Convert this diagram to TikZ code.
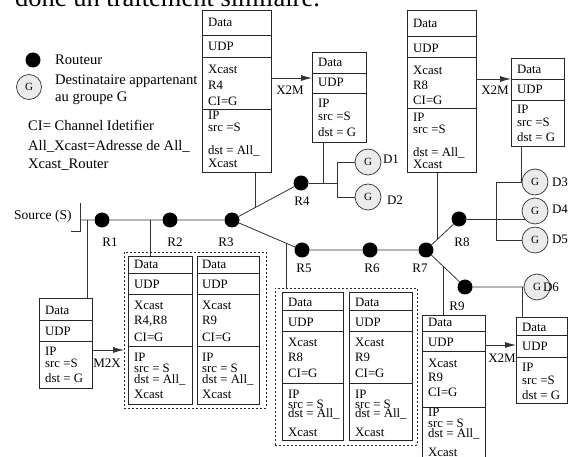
\documentclass[tikz,border=0pt]{standalone}
\usepackage{fontspec}
\setmainfont{Liberation Serif}
\usetikzlibrary{arrows.meta,calc,backgrounds}
\newcounter{tn}
\tikzset{
  tx/.style={anchor=base west, inner sep=0pt, font=\fontsize{12.8}{14}\selectfont},
  lg/.style={anchor=base west, inner sep=0pt, font=\fontsize{14.6}{16}\selectfont},
  rl/.style={inner sep=0pt, font=\fontsize{13}{14}\selectfont},
  pbox/.style={draw=black!85, line width=0.8pt, anchor=north west, inner sep=0pt, outer sep=0pt},
  boxline/.style={draw=black!85, line width=0.8pt},
  wire/.style={draw=black!80, line width=0.8pt},
  arr/.style={wire, -{Latex[length=11pt,width=6pt]}},
  router/.style={circle, fill=black, minimum size=15pt, inner sep=0pt},
  dest/.style={circle, draw=black!80, line width=0.7pt, fill=black!8, minimum size=26pt, inner sep=0pt, font=\fontsize{11}{12}\selectfont},
  dashbox/.style={draw=black!85, line width=0.8pt, dash pattern=on 2pt off 2pt, anchor=north west, inner sep=0pt}
}
\newcommand\tl[3]{\stepcounter{tn}\node[tx] (t\arabic{tn}) at (#1,{#2+4.3}) {#3};}
\newcommand\lgt[3]{\stepcounter{tn}\node[lg] (t\arabic{tn}) at (#1,{#2+4.6}) {#3};}
\newcommand\pkt[6]{\node[pbox, minimum width=#4pt, minimum height=#5pt] (#1) at (#2,#3) {};
  \foreach \d in {#6} {\draw[boxline] (#2,\d) -- ++(#4,0);}}
\begin{document}
\begin{tikzpicture}[x=1pt,y=-1pt]
\useasboundingbox (0,0) rectangle (571,457);
% title (cut at the top)
\node[anchor=base west, inner sep=0pt, font=\fontsize{26.5}{30}\selectfont] (title) at (15,7) {donc un traitement similaire.};
% legend
\node[router] (legR) at (33,60) {};
\lgt{55}{60}{Routeur}
\node[dest, minimum size=25pt] (legG) at (29,87) {G};
\lgt{55}{80}{Destinataire appartenant}
\lgt{55}{97}{au groupe G}
\lgt{28}{126}{CI= Channel Idetifier}
\lgt{28}{146}{All\_Xcast=Adresse de All\_}
\lgt{28}{164}{Xcast\_Router}
% source
\node[anchor=west, inner sep=0pt, font=\fontsize{13.5}{15}\selectfont] (src) at (14,216) {Source (S)};
\draw[wire] (80,203) -- (80,232);
\draw[wire] (71,231) -- (80,231);
\coordinate (S) at (80,220);
% routers
\node[router] (R1) at (102,220) {};
\node[router] (R2) at (170,220) {};
\node[router] (R3) at (232,220) {};
\node[router] (R4) at (301,183) {};
\node[router] (R5) at (302,250) {};
\node[router] (R6) at (370,250) {};
\node[router] (R7) at (426,250) {};
\node[router] (R8) at (459,219) {};
\node[router] (R9) at (465,287) {};
\node[rl] (lR1) at (110,242) {R1};
\node[rl] (lR2) at (175,242) {R2};
\node[rl] (lR3) at (226,242) {R3};
\node[rl] (lR4) at (302,201) {R4};
\node[rl] (lR5) at (304,268) {R5};
\node[rl] (lR6) at (372,268) {R6};
\node[rl] (lR7) at (420,268) {R7};
\node[rl] (lR8) at (462,242) {R8};
\node[rl] (lR9) at (457,306) {R9};
% destinations
\node[dest] (D1) at (368,162) {G};
\node[dest] (D2) at (368,197) {G};
\node[dest] (D3) at (535,182) {G};
\node[dest] (D4) at (535,211) {G};
\node[dest] (D5) at (535,240) {G};
\node[dest] (D6) at (537,287) {G};
\node[rl] (lD1) at (391,159) {D1};
\node[rl] (lD2) at (395,200) {D2};
\node[rl] (lD3) at (560,182) {D3};
\node[rl] (lD4) at (560,209) {D4};
\node[rl] (lD5) at (560,239) {D5};
\node[rl] (lD6) at (551,287) {D6};
% box A (R4, Xcast)
\pkt{A}{202}{10}{69}{162}{35,57,109}
\tl{208}{22}{Data}\tl{208}{46}{UDP}\tl{208}{69}{Xcast}\tl{208}{85}{R4}\tl{208}{101}{CI=G}
\tl{208}{115}{IP}\tl{208}{127}{src =S}\tl{208}{150}{dst = All\_}\tl{208}{163}{Xcast}
% box B (R4, X2M)
\pkt{B}{312}{52}{54}{90}{73,93}
\tl{318}{62}{Data}\tl{318}{82}{UDP}\tl{318}{103}{IP}\tl{318}{116}{src =S}\tl{318}{132}{dst = G}
% box C (R8, Xcast)
\pkt{C}{407}{10}{69}{162}{36,57,108}
\tl{413}{23}{Data}\tl{413}{48}{UDP}\tl{413}{70}{Xcast}\tl{413}{85}{R8}\tl{413}{100}{CI=G}
\tl{413}{117}{IP}\tl{413}{129}{src =S}\tl{413}{152}{dst = All\_}\tl{413}{164}{Xcast}
% box D (R8, X2M)
\pkt{D}{511}{58}{53}{88}{79,100}
\tl{517}{69}{Data}\tl{517}{89}{UDP}\tl{517}{109}{IP}\tl{517}{122}{src =S}\tl{517}{137}{dst = G}
% box E (R9, Xcast)
\pkt{E}{422}{315}{63}{152}{331,351,407}
\tl{428}{322}{Data}\tl{428}{342}{UDP}\tl{428}{363}{Xcast}\tl{428}{377}{R9}\tl{428}{392}{CI=G}
\tl{428}{412}{IP}\tl{428}{423}{src = S}\tl{428}{433}{dst = All\_}\tl{428}{452}{Xcast}
% box F (R9, X2M)
\pkt{F}{516}{317}{51}{86}{335,357}
\tl{522}{327}{Data}\tl{522}{346}{UDP}\tl{522}{367}{IP}\tl{522}{380}{src =S}\tl{522}{395}{dst = G}
% dashed group 1
\node[dashbox, minimum width=142pt, minimum height=156pt] (DB1) at (124,252) {};
\pkt{H1}{128}{256}{64}{148}{273,294,346}
\tl{134}{264}{Data}\tl{134}{284}{UDP}\tl{134}{305}{Xcast}\tl{134}{320}{R4,R8}\tl{134}{337}{CI=G}
\tl{134}{357}{IP}\tl{134}{368}{src = S}\tl{134}{379}{dst = All\_}\tl{134}{394}{Xcast}
\pkt{H2}{197}{256}{62}{148}{273,294,346}
\tl{202}{264}{Data}\tl{202}{284}{UDP}\tl{202}{305}{Xcast}\tl{202}{320}{R9}\tl{202}{337}{CI=G}
\tl{202}{357}{IP}\tl{202}{368}{src = S}\tl{202}{379}{dst = All\_}\tl{202}{394}{Xcast}
% dashed group 2
\node[dashbox, minimum width=142pt, minimum height=157pt] (DB2) at (275,288) {};
\pkt{G1}{282}{292}{61}{148}{310,331,383}
\tl{288}{302}{Data}\tl{288}{322}{UDP}\tl{288}{342}{Xcast}\tl{288}{357}{R8}\tl{288}{373}{CI=G}
\tl{288}{394}{IP}\tl{288}{404}{src = S}\tl{288}{413}{dst = All\_}\tl{288}{432}{Xcast}
\pkt{G2}{349}{292}{63}{148}{310,331,383}
\tl{355}{302}{Data}\tl{355}{322}{UDP}\tl{355}{342}{Xcast}\tl{355}{357}{R9}\tl{355}{373}{CI=G}
\tl{355}{394}{IP}\tl{355}{404}{src = S}\tl{355}{413}{dst = All\_}\tl{355}{432}{Xcast}
% box I (source, M2X)
\pkt{I}{39}{298}{53}{90}{320,341}
\tl{45}{310}{Data}\tl{45}{331}{UDP}\tl{45}{351}{IP}\tl{45}{363}{src =S}\tl{45}{378}{dst = G}
% arrow labels
\node[rl] (xA) at (290,90) {X2M};
\node[rl] (xC) at (495,90) {X2M};
\node[rl] (xE) at (502,358) {X2M};
\node[rl] (mI) at (107,363) {M2X};
% junction coordinates
\coordinate (jA) at ($(R3)!0.333!(R4)$);
\coordinate (jB) at (323,183);
\coordinate (jD1) at (337,183);
\coordinate (jC) at ($(R7)!0.333!(R8)$);
\coordinate (jD) at (496,182);
\coordinate (jE) at ($(R7)!0.436!(R9)$);
\coordinate (jF) at (522,287);
\coordinate (jG) at ($(R3)!0.771!(R5)$);
\coordinate (jH) at ($(R1)!0.706!(R2)$);
\coordinate (jI) at (87,220);
\coordinate (yAB) at (0,78);
\coordinate (yCD) at (0,79);
\coordinate (yEF) at (0,345);
\coordinate (yI) at (0,350);
\begin{scope}[on background layer]
\draw[wire] (S) -- (R1) -- (R2) -- (R3) -- (R4);
\draw[wire] (R3) -- (R5) -- (R6) -- (R7) -- (R8);
\draw[wire] (R7) -- (R9) -- (D6);
\draw[wire] (R4) -- (jD1);
\draw[wire] (jD1 |- D1) -- (jD1 |- D2);
\draw[wire] (jD1 |- D1) -- (D1);
\draw[wire] (jD1 |- D2) -- (D2);
\draw[wire] (A.south -| jA) -- (jA);
\draw[wire] (B.south -| jB) -- (jB);
\draw[wire] (C.south -| jC) -- (jC);
\draw[wire] (D.south -| D3.west) -- (D3.west) -- (jD) |- (D5.west);
\draw[wire] (R8) -- (R8 -| D4);
\draw[wire] (jE) -- (jE |- E.north);
\draw[wire] (jF) -- (jF |- F.north);
\draw[wire] (jG) -- (jG |- DB2.north);
\draw[wire] (jH) -- (jH |- H1.north);
\draw[wire] (jI) -- (jI |- I.north);
\end{scope}
\draw[arr] (A.east |- yAB) -- (B.west |- yAB);
\draw[arr] (C.east |- yCD) -- (D.west |- yCD);
\draw[arr] (E.east |- yEF) -- (F.west |- yEF);
\draw[arr] (I.east |- yI) -- (DB1.west |- yI);
\end{tikzpicture}
\end{document}
